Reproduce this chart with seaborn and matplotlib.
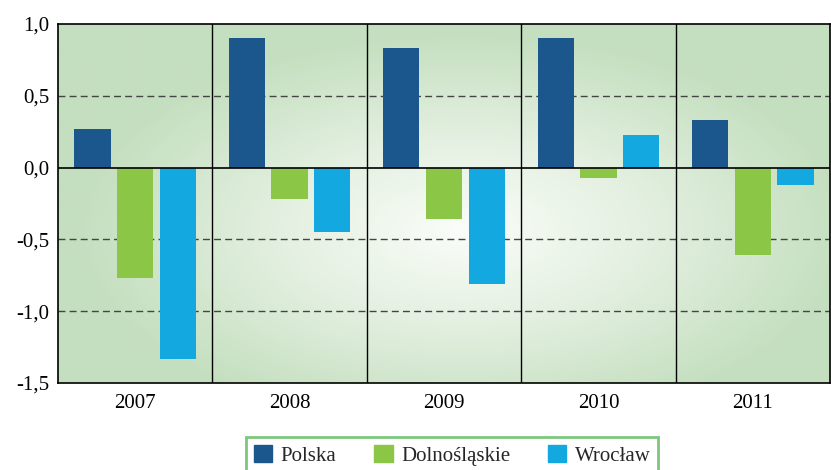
import numpy as np
import pandas as pd
import matplotlib
matplotlib.use("Agg")
import matplotlib.pyplot as plt
import seaborn as sns
from matplotlib.colors import LinearSegmentedColormap

years = ['2007', '2008', '2009', '2010', '2011']
series = ['Polska', 'Dolnośląskie', 'Wrocław']
polska = [0.27, 0.90, 0.83, 0.90, 0.33]
dolnoslaskie = [-0.77, -0.22, -0.36, -0.07, -0.61]
wroclaw = [-1.33, -0.45, -0.81, 0.23, -0.12]
colors = ['#1b578c', '#8cc646', '#13a9e0']
yticks = [1.0, 0.5, 0.0, -0.5, -1.0, -1.5]

df = pd.DataFrame({
    'rok': years * 3,
    'seria': [s for s in series for _ in years],
    'wartosc': polska + dolnoslaskie + wroclaw,
})

sns.set_style('white')
plt.rcParams['font.family'] = ['Liberation Serif', 'DejaVu Serif']

fig = plt.figure(figsize=(8.31, 4.70), dpi=100)
ax = fig.add_axes([58 / 831, 1 - 383 / 470, 772 / 831, 359 / 470])

# radial green gradient in the background
gx, gy = np.meshgrid(np.linspace(-1, 1, 400), np.linspace(-1, 1, 200))
r = np.sqrt(((gx - 0.05) / 1.0) ** 2 + ((gy + 0.15) / 1.1) ** 2)
r = np.clip(r, 0, 1)
cmap = LinearSegmentedColormap.from_list('bg', ['#fafdf9', '#e2efdf', '#c4dfbf'])
ax.imshow(r, cmap=cmap, extent=[-0.5, 4.5, -1.5, 1.0], aspect='auto',
          zorder=0, origin='lower')

sns.barplot(data=df, x='rok', y='wartosc', hue='seria', palette=colors,
            width=0.83, gap=0.15, ax=ax, zorder=3, legend=True,
            saturation=1, linewidth=0)

ax.set_xlim(-0.5, 4.5)
ax.set_ylim(-1.5, 1.0)
ax.set_yticks(yticks)
ax.set_yticklabels([f'{v:.1f}'.replace('.', ',') for v in yticks])
ax.set_xlabel('')
ax.set_ylabel('')

for v in [0.5, -0.5, -1.0]:
    ax.axhline(v, color='#444444', linestyle=(0, (5, 3)), linewidth=1, zorder=2)
ax.axhline(0, color='black', linewidth=1.2, zorder=4)
for b in [0.5, 1.5, 2.5, 3.5]:
    ax.axvline(b, color='black', linewidth=1.0, zorder=2)

for s in ax.spines.values():
    s.set_color('black')
    s.set_linewidth(1.2)
ax.tick_params(axis='both', length=0, labelsize=15, colors='black', pad=6)
ax.tick_params(axis='x', pad=8)

ax.get_legend().remove()
handles = [plt.Rectangle((0, 0), 1, 1, color=c) for c in colors]
leg = fig.legend(handles, series, loc='upper center', ncol=3,
                 bbox_to_anchor=(452 / 831, 1 - 427 / 470), frameon=True,
                 fontsize=15, handlelength=0.9, handleheight=0.9,
                 handletextpad=0.4, columnspacing=1.8, borderpad=0.35,
                 fancybox=False)
leg.get_frame().set_edgecolor('#5cb85c')
leg.get_frame().set_linewidth(2)

fig.savefig('out.png', dpi=100)
